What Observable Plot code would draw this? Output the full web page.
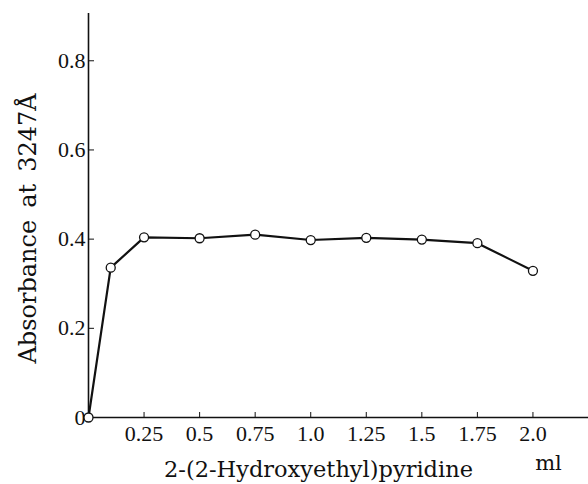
<!DOCTYPE html>
<html>
<head>
<meta charset="utf-8">
<script src="https://cdn.jsdelivr.net/npm/d3@7"></script>
<script src="https://cdn.jsdelivr.net/npm/@observablehq/plot@0.6"></script>
<style>
  html, body { margin: 0; padding: 0; background: #fff; }
  #chart svg { display: block; }
</style>
</head>
<body>
<div id="chart"></div>
<script>
// Volume of 2-(2-Hydroxyethyl)pyridine (ml)
const volumes = [0, 0.1, 0.25, 0.5, 0.75, 1.0, 1.25, 1.5, 1.75, 2.0];
// Absorbance at 3247 Å
const absorbance = [0, 0.336, 0.404, 0.402, 0.410, 0.398, 0.403, 0.399, 0.391, 0.329];

const xTicks = [0.25, 0.5, 0.75, 1.0, 1.25, 1.5, 1.75, 2.0];
const xTickLabels = ["0.25", "0.5", "0.75", "1.0", "1.25", "1.5", "1.75", "2.0"];
const yTicks = [0, 0.2, 0.4, 0.6, 0.8];
const yTickLabels = ["0", "0.2", "0.4", "0.6", "0.8"];
const yInnerTicks = [0.2, 0.4, 0.6, 0.8];

const xLabel = "2-(2-Hydroxyethyl)pyridine";
const yLabel = "Absorbance\u2002at\u20023247\u00C5";
const unitLabel = "ml";

const data = volumes.map((v, i) => ({v, a: absorbance[i]}));

const W = 588, H = 484;
const mT = 13, mB = 67, mL = 88, mR = 0;
const frameH = H - mT - mB, frameW = W - mL - mR;

const chart = Plot.plot({
  width: W,
  height: H,
  marginTop: mT,
  marginBottom: mB,
  marginLeft: mL,
  marginRight: mR,
  style: {background: "#fff", color: "#111"},
  x: {domain: [0, 2.25]},
  y: {domain: [0, 0.906]},
  marks: [
    Plot.ruleX([0], {stroke: "#111", strokeWidth: 1.6}),
    Plot.ruleY([0], {stroke: "#111", strokeWidth: 1.6}),
    Plot.tickX(xTicks, {x: d => d, insetTop: frameH - 5, stroke: "#111", strokeWidth: 1}),
    Plot.tickY(yInnerTicks, {y: d => d, insetRight: frameW - 6, stroke: "#111", strokeWidth: 1}),
    Plot.axisX({
      ticks: xTicks, tickSize: 0, tickPadding: 8, fontSize: 22,
      tickFormat: d => xTickLabels[xTicks.indexOf(d)],
      label: null
    }),
    Plot.axisY({
      ticks: yTicks, tickSize: 0, tickPadding: 3, fontSize: 22,
      tickFormat: d => yTickLabels[yTicks.indexOf(d)],
      label: null
    }),
    Plot.line(data, {x: "v", y: "a", stroke: "#111", strokeWidth: 2.2}),
    Plot.dot(data, {x: "v", y: "a", r: 4.5, fill: "#fff", stroke: "#111", strokeWidth: 1.3}),
    Plot.text([xLabel], {text: d => d, frameAnchor: "bottom", textAnchor: "middle", lineAnchor: "middle",
      dx: -20, dy: 52, fontSize: 22.5, fill: "#111"}),
    Plot.text([unitLabel], {text: d => d, frameAnchor: "bottom-right", textAnchor: "middle", lineAnchor: "middle",
      dx: -40, dy: 46, fontSize: 21, fill: "#111"}),
    Plot.text([yLabel], {text: d => d, frameAnchor: "left", textAnchor: "middle", lineAnchor: "middle",
      dx: -60, dy: 13, rotate: -90, fontSize: 24, fill: "#111"})
  ]
});
// fonts set directly on the texts
const tickSet = new Set([...xTickLabels, ...yTickLabels]);
chart.querySelectorAll("text").forEach(t => {
  const s = t.textContent;
  if (s === xLabel || s === yLabel || s === unitLabel) {
    t.style.fontFamily = '"DejaVu Serif", serif';
  } else if (tickSet.has(s)) {
    t.style.fontFamily = '"Liberation Serif", serif';
    t.style.fontSize = "22px";
    t.style.fill = "#111";
  }
});
document.getElementById("chart").appendChild(chart);
</script>
</body>
</html>
